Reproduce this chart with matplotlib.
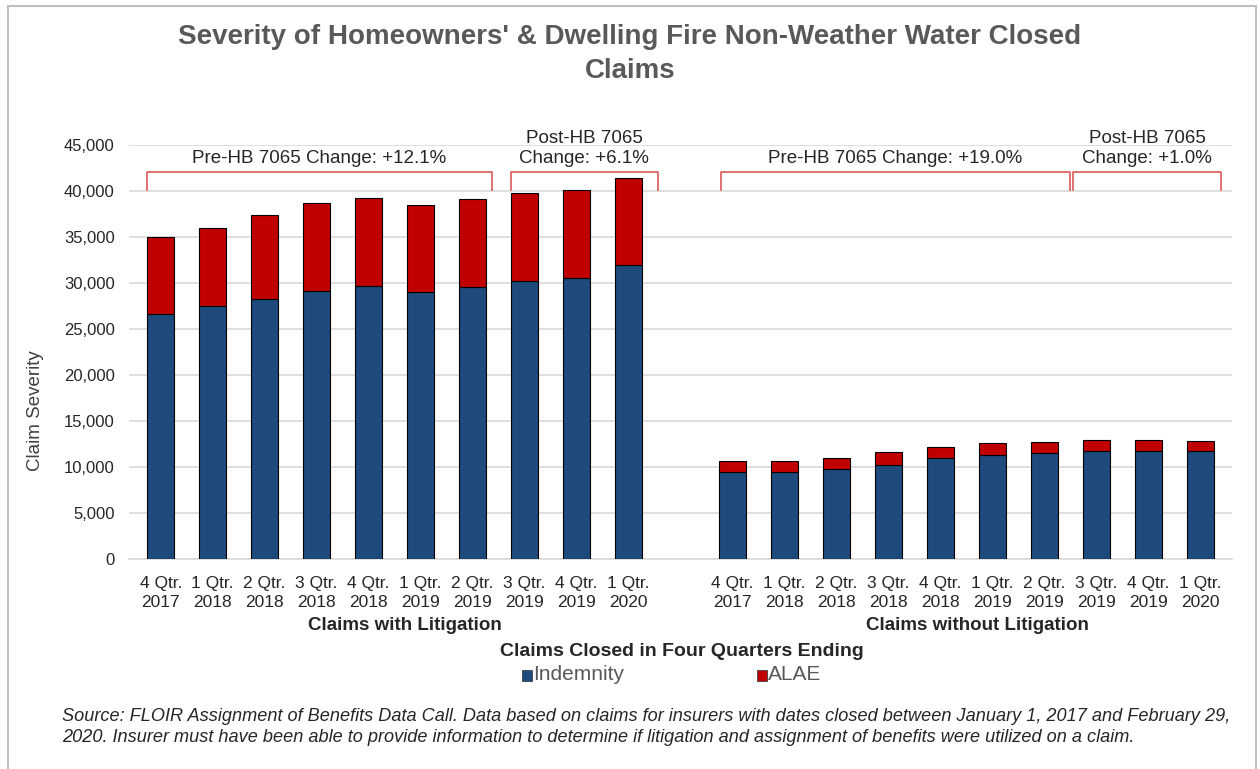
import numpy as np
import matplotlib.pyplot as plt
from matplotlib.patches import Rectangle

plt.rcParams['font.family'] = ['Liberation Sans', 'DejaVu Sans']

quarters = ['4 Qtr.\n2017', '1 Qtr.\n2018', '2 Qtr.\n2018', '3 Qtr.\n2018', '4 Qtr.\n2018',
            '1 Qtr.\n2019', '2 Qtr.\n2019', '3 Qtr.\n2019', '4 Qtr.\n2019', '1 Qtr.\n2020']

# claims with litigation
lit_indemnity = [26700, 27500, 28300, 29200, 29700, 29000, 29600, 30200, 30600, 32000]
lit_total = [35000, 36000, 37400, 38700, 39300, 38500, 39200, 39800, 40100, 41500]
# claims without litigation
nolit_indemnity = [9500, 9500, 9850, 10200, 11000, 11300, 11500, 11700, 11800, 11700]
nolit_total = [10700, 10700, 11000, 11600, 12200, 12600, 12700, 12900, 13000, 12800]

lit_alae = [t - i for t, i in zip(lit_total, lit_indemnity)]
nolit_alae = [t - i for t, i in zip(nolit_total, nolit_indemnity)]

blue = '#1f4a7c'
red = '#c00000'
gray = '#595959'
dark = '#262626'

fig = plt.figure(figsize=(12.6, 7.69), dpi=100)
ax = fig.add_axes([0.102, 0.273, 0.876, 0.538])

x_lit = np.arange(10)
x_nolit = np.arange(11, 21)
w = 0.52

ax.bar(x_lit, lit_indemnity, w, color=blue, edgecolor='black', linewidth=0.8, zorder=3)
ax.bar(x_lit, lit_alae, w, bottom=lit_indemnity, color=red, edgecolor='black', linewidth=0.8, zorder=3)
ax.bar(x_nolit, nolit_indemnity, w, color=blue, edgecolor='black', linewidth=0.8, zorder=3)
ax.bar(x_nolit, nolit_alae, w, bottom=nolit_indemnity, color=red, edgecolor='black', linewidth=0.8, zorder=3)

ax.set_xlim(-0.62, 20.62)
ax.set_ylim(0, 45000)
ax.set_yticks(range(0, 45001, 5000))
ax.set_yticklabels([f'{v:,}' for v in range(0, 45001, 5000)], fontsize=12, color=dark)
ax.yaxis.grid(True, color='#d9d9d9', linewidth=1.2, zorder=0)
ax.set_axisbelow(True)
for s in ['top', 'right', 'left']:
    ax.spines[s].set_visible(False)
ax.spines['bottom'].set_color('#d9d9d9')
ax.spines['bottom'].set_linewidth(1.2)
ax.tick_params(axis='y', length=0, pad=10)
ax.tick_params(axis='x', length=0, pad=12)
ax.set_xticks(list(x_lit) + list(x_nolit))
ax.set_xticklabels(quarters + quarters, fontsize=12.5, color=dark, linespacing=1.35)

fig.text(36 / 1260, 1 - 411 / 769, 'Claim Severity', rotation=90, ha='center', va='center',
         fontsize=13.5, color='#404040')

# brackets
brackets = [(-0.27, 6.37, 'Pre-HB 7065 Change: +12.1%'),
            (6.74, 9.56, 'Post-HB 7065\nChange: +6.1%'),
            (10.79, 17.49, 'Pre-HB 7065 Change: +19.0%'),
            (17.56, 20.4, 'Post-HB 7065\nChange: +1.0%')]
for x0, x1, label in brackets:
    ax.plot([x0, x0, x1, x1], [40100, 42050, 42050, 40100], color='#e06666',
            linewidth=1.3, clip_on=False, zorder=4)
    ax.text((x0 + x1) / 2, 42600, label, ha='center', va='bottom', fontsize=13.5,
            color=dark, linespacing=1.3)

fig.text(0.5, 1 - 54 / 769, "Severity of Homeowners' & Dwelling Fire Non-Weather Water Closed\nClaims",
         ha='center', va='center', fontsize=20, fontweight='bold', color=gray, linespacing=1.35)

fig.text(405 / 1260, 1 - 626 / 769, 'Claims with Litigation', ha='center', va='center',
         fontsize=13.5, fontweight='bold', color=dark)
fig.text(977 / 1260, 1 - 626 / 769, 'Claims without Litigation', ha='center', va='center',
         fontsize=13.5, fontweight='bold', color=dark)
fig.text(682 / 1260, 1 - 651 / 769, 'Claims Closed in Four Quarters Ending', ha='center', va='center',
         fontsize=14, fontweight='bold', color=dark)

# legend
for lx, lab, col in [(522, 'Indemnity', blue), (757, 'ALAE', red)]:
    fig.patches.append(Rectangle((lx / 1260, 1 - 681 / 769), 10 / 1260, 11 / 769,
                                 transform=fig.transFigure, facecolor=col,
                                 edgecolor='#404040', linewidth=0.6))
    fig.text((lx + 11) / 1260, 1 - 675 / 769, lab, ha='left', va='center', fontsize=15, color=gray)

fig.text(62 / 1260, 1 - 727 / 769,
         'Source: FLOIR Assignment of Benefits Data Call. Data based on claims for insurers with dates '
         'closed between January 1, 2017 and February 29,\n2020. Insurer must have been able to provide '
         'information to determine if litigation and assignment of benefits were utilized on a claim.',
         ha='left', va='center', fontsize=13.1, style='italic', color=dark, linespacing=1.32)

# outer frame
fig.patches.append(Rectangle((8 / 1260, -0.01), 1248 / 1260, 1 - 6 / 769 + 0.01,
                             transform=fig.transFigure, facecolor='none',
                             edgecolor='#bfbfbf', linewidth=1.5))

fig.savefig('out.png', dpi=100)
